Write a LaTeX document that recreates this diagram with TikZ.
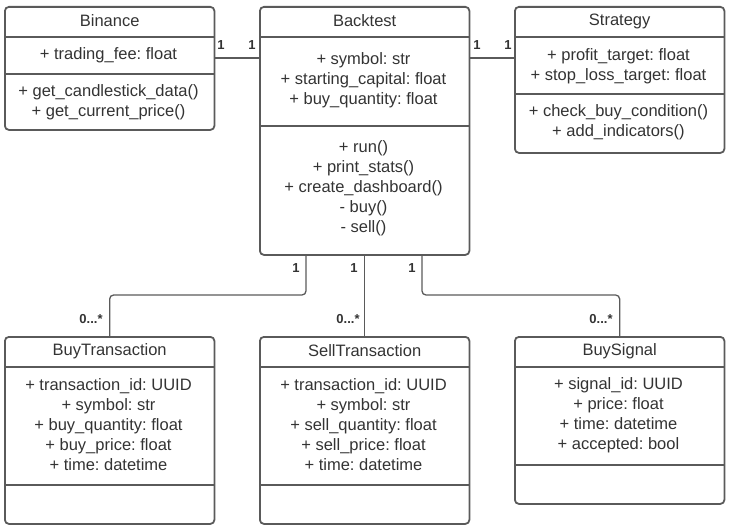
\documentclass[tikz,border=0pt]{standalone}
\usepackage{fontspec}
\setmainfont{Liberation Sans}
\frenchspacing
\definecolor{linegray}{HTML}{5A5A5A}
\definecolor{textgray}{HTML}{333333}

\tikzset{
  classbox/.style={draw=linegray, line width=1.8pt, rounded corners=4pt,
    minimum width=209.5pt, inner sep=0pt, anchor=north west},
  divider/.style={draw=linegray, line width=1.8pt},
  member/.style={text=textgray, font=\fontsize{16.5}{20}\selectfont, align=center, inner sep=0pt},
  assoc/.style={draw=linegray, line width=1.3pt, rounded corners=4pt},
  mult/.style={text=textgray, font=\bfseries\fontsize{13}{15}\selectfont, inner sep=0pt},
}

\begin{document}
\begin{tikzpicture}[x=1pt,y=-1pt]
    \useasboundingbox (0,0) rectangle (729,527);

    % class boxes with their two dividers
    \foreach \n/\x/\y/\h/\da/\db in {
        binance/4/6/123/31/68,
        backtest/259/6/248/31/120,
        strategy/514/6/146/31/88,
        buytx/4/336/187/31/149,
        selltx/259/336/187/31/149,
        signal/514/336/167/31/129} {
            \node[classbox, minimum height=\h pt] (\n) at (\x,\y) {};
            \draw[divider] ([yshift=-\da pt]\n.north west) -- ([yshift=-\da pt]\n.north east);
            \draw[divider] ([yshift=-\db pt]\n.north west) -- ([yshift=-\db pt]\n.north east);
    }

    % class names
    \foreach \n/\t in {binance/Binance, backtest/Backtest, strategy/Strategy,
        buytx/BuyTransaction, selltx/SellTransaction, signal/BuySignal}
            \node[member] (\n-name) at ([yshift=-15pt]\n.north) {\t};

    % attributes
    \node[member] (binance-attr) at (108.5,55) {+ trading\_fee: float};
    \node[member] (backtest-attr) at (363.5,80) {+ symbol: str\\+ starting\_capital: float\\+ buy\_quantity: float};
    \node[member] (strategy-attr) at (618.5,66) {+ profit\_target: float\\+ stop\_loss\_target: float};
    \node[member] (buytx-attr) at (108.5,425) {+ transaction\_id: UUID\\+ symbol: str\\+ buy\_quantity: float\\+ buy\_price: float\\+ time: datetime};
    \node[member] (selltx-attr) at (363.5,425) {+ transaction\_id: UUID\\+ symbol: str\\+ sell\_quantity: float\\+ sell\_price: float\\+ time: datetime};
    \node[member] (signal-attr) at (618.5,415) {+ signal\_id: UUID\\+ price: float\\+ time: datetime\\+ accepted: bool};

    % methods
    \node[member] (binance-ops) at (108.5,102) {+ get\_candlestick\_data()\\+ get\_current\_price()};
    \node[member] (backtest-ops) at (363.5,188) {+ run()\\+ print\_stats()\\+ create\_dashboard()\\- buy()\\- sell()};
    \node[member] (strategy-ops) at (618.5,122) {+ check\_buy\_condition()\\+ add\_indicators()};

    % associations
    \coordinate (a1) at (0,58);
    \coordinate (a2) at (0,58);
    \coordinate (j1) at (306,295);
    \coordinate (j3) at (422,295);
    \draw[assoc] (binance.east |- a1) -- (backtest.west |- a1);
    \draw[assoc] (backtest.east |- a2) -- (strategy.west |- a2);
    \draw[assoc] (j1 |- backtest.south) -- (j1) -| (buytx.north);
    \draw[assoc] (backtest.south) -- (selltx.north);
    \draw[assoc] (j3 |- backtest.south) -- (j3) -| (signal.north);

    % multiplicities
    \foreach \m/\x/\y/\t in {m1/221/45/1, m2/252/45/1, m3/477/45/1, m4/508/45/1,
        m5/296/268/1, m6/354/268/1, m7/412/268/1,
        m8/91/319/{0...*}, m9/348/319/{0...*}, m10/601/319/{0...*}}
            \node[mult] (\m) at (\x,\y) {\t};
\end{tikzpicture}
\end{document}
